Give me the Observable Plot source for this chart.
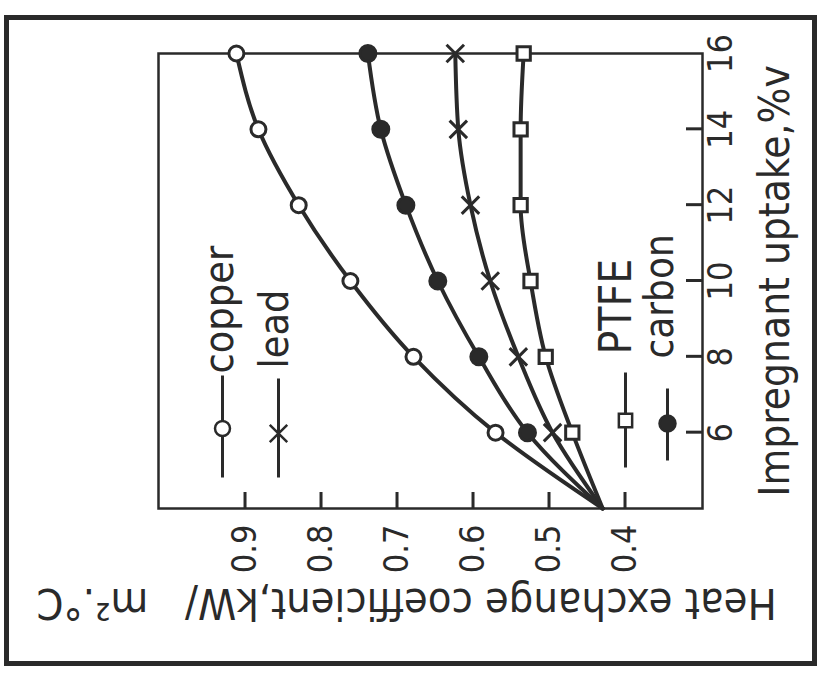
<!DOCTYPE html>
<html><head><meta charset="utf-8">
<script src="https://cdn.jsdelivr.net/npm/d3@7"></script>
<script src="https://cdn.jsdelivr.net/npm/@observablehq/plot@0.6"></script>
<style>
html,body{margin:0;padding:0;background:#fff;}
#chart svg{display:block;}
</style></head><body><div id="chart"></div>
<script>
// Data
const uptake = [4, 6, 8, 10, 12, 14, 16];
const copper = [0.43, 0.571, 0.679, 0.762, 0.830, 0.883, 0.912];
const carbon = [0.43, 0.529, 0.593, 0.647, 0.689, 0.722, 0.739];
const lead   = [0.43, 0.496, 0.541, 0.578, 0.604, 0.620, 0.624];
const ptfe   = [0.43, 0.470, 0.505, 0.525, 0.538, 0.538, 0.534];
const seriesNames = ["copper", "lead", "PTFE", "carbon"];
const xTicks = [0.4, 0.5, 0.6, 0.7, 0.8, 0.9];
const yTicks = [6, 8, 10, 12, 14, 16];
const xLabel = "Heat exchange coefficient,kW/\u00A0\u00A0\u00A0m\u00B2.\u00B0C";
const yLabel = "Impregnant uptake,%v";

const valuesBy = {copper, lead, PTFE: ptfe, carbon};
const rows = seriesNames.flatMap(s => uptake.map((u, i) => ({series: s, uptake: u, value: valuesBy[s][i]})));
const markerRows = rows.filter(d => d.uptake > 4);

// Styles / layout (not data)
const ink = "#2a2a2a";
const font = "'DejaVu Sans Condensed', 'DejaVu Sans', sans-serif";
const W = 818, H = 675, mL = 158, mR = 116, mT = 53, mB = 167;
const innerW = W - mL - mR, innerH = H - mT - mB;
const xDomain = [1.0145, 0.2987], yDomain = [4, 16];
const tickLen = 16, tickW = 3;
// pixel sizes converted to data units so tick rects go through the scales
const pxX = (xDomain[0] - xDomain[1]) / innerW;
const pxY = (yDomain[1] - yDomain[0]) / innerH;
const markerStyle = {
  copper: {symbol: "circle", r: 7.5, fill: "white"},
  lead:   {symbol: "times", r: 8, fill: "none"},
  PTFE:   {symbol: "square", r: 7.5, fill: "white"},
  carbon: {symbol: "circle", r: 8, fill: ink}
};
const legendLayout = {
  copper: {lx: 222, ly1: 375, ly2: 477, my: 428, tx: 219, ty: 373, fs: 41},
  lead:   {lx: 278, ly1: 378, ly2: 477, my: 433, tx: 274, ty: 368, fs: 41},
  PTFE:   {lx: 625, ly1: 372, ly2: 467, my: 420, tx: 616, ty: 354, fs: 44},
  carbon: {lx: 667, ly1: 388, ly2: 460, my: 423, tx: 660, ty: 358, fs: 40}
};
const vline = h => ({draw(ctx) { ctx.moveTo(0, -h); ctx.lineTo(0, h); }});

const legendMarks = seriesNames.flatMap(s => {
  const L = legendLayout[s], st = markerStyle[s];
  return [
    Plot.dot([s], {frameAnchor: "top-left", dx: L.lx - mL, dy: (L.ly1 + L.ly2) / 2 - mT,
      symbol: vline((L.ly2 - L.ly1) / 2), fill: "none", stroke: ink, strokeWidth: 3}),
    Plot.dot([s], {frameAnchor: "top-left", dx: L.lx - mL, dy: L.my - mT,
      symbol: st.symbol, r: st.r, fill: st.fill, stroke: ink, strokeWidth: 2.5}),
    Plot.text([s], {frameAnchor: "top-left", dx: L.tx - mL, dy: L.ty - mT, text: d => d,
      rotate: -90, textAnchor: "start", lineAnchor: "middle", fontSize: L.fs, fill: ink})
  ];
});

const chart = Plot.plot({
  width: W, height: H,
  marginLeft: mL, marginRight: mR, marginTop: mT, marginBottom: mB,
  style: {fontFamily: font, color: ink, background: "white"},
  x: {domain: xDomain, axis: null},
  y: {domain: yDomain, axis: null},
  marks: [
    Plot.frame({stroke: ink, strokeWidth: 5, insetLeft: -152, insetRight: -112, insetTop: -36, insetBottom: -155}),
    Plot.frame({stroke: ink, strokeWidth: 2.5}),
    Plot.text(xTicks, {x: d => d, frameAnchor: "bottom", dy: 16, text: d => d.toFixed(1), rotate: -90,
      textAnchor: "end", lineAnchor: "middle", fontSize: 34, fill: ink}),
    Plot.text(yTicks, {y: d => d, frameAnchor: "right", dx: 5, text: d => String(d), rotate: -90,
      textAnchor: "middle", lineAnchor: "top", fontSize: 34, fill: ink}),
    Plot.text([xLabel], {frameAnchor: "bottom", dx: -24, dy: 94, text: d => d, rotate: 180,
      textAnchor: "middle", lineAnchor: "middle", fontSize: 43, fill: ink}),
    Plot.text([yLabel], {frameAnchor: "right", dx: 73, text: d => d, rotate: -90,
      textAnchor: "middle", lineAnchor: "middle", fontSize: 42, fill: ink}),
    Plot.line(rows, {x: "value", y: "uptake", z: "series", curve: "monotone-y", stroke: ink, strokeWidth: 4}),
    ...seriesNames.map(s => Plot.dot(markerRows.filter(d => d.series === s), {
      x: "value", y: "uptake", symbol: markerStyle[s].symbol, r: markerStyle[s].r,
      fill: markerStyle[s].fill, stroke: ink, strokeWidth: 3})),
    ...legendMarks,
    // inward tick marks as thin filled rects through the scales
    Plot.rect(xTicks, {x1: d => d - pxX * tickW / 2, x2: d => d + pxX * tickW / 2,
      y1: () => yDomain[0], y2: () => yDomain[0] + pxY * tickLen, fill: ink}),
    Plot.rect(yTicks.slice(0, -1), {y1: d => d - pxY * tickW / 2, y2: d => d + pxY * tickW / 2,
      x1: () => xDomain[1], x2: () => xDomain[1] + pxX * tickLen, fill: ink})
  ]
});
document.getElementById("chart").append(chart);
</script>
</body></html>
